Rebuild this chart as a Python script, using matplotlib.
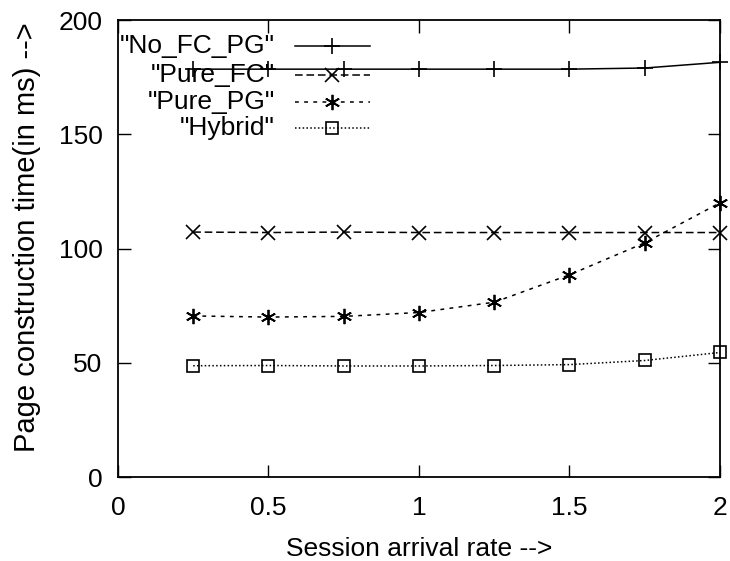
import matplotlib
matplotlib.use("Agg")
import matplotlib.pyplot as plt
from matplotlib.lines import Line2D

plt.rcParams['font.family'] = ['Liberation Sans', 'DejaVu Sans']

# Data
rate = [0.25, 0.5, 0.75, 1.0, 1.25, 1.5, 1.75, 2.0]
no_fc_pg = [178.5, 178.5, 178.5, 178.5, 178.5, 178.5, 179, 181.5]
pure_fc = [107.2, 107, 107.2, 107, 107, 107, 107, 107]
pure_pg = [70.5, 70, 70.3, 72, 76.5, 88.5, 102.5, 120]
hybrid = [48.7, 48.8, 48.6, 48.6, 48.8, 49.2, 51, 54.5]

labels = ['"No_FC_PG"', '"Pure_FC"', '"Pure_PG"', '"Hybrid"']
series = [no_fc_pg, pure_fc, pure_pg, hybrid]
styles = [
    dict(linestyle='-', marker='+', markersize=12, markeredgewidth=1.2),
    dict(linestyle=(0, (5, 2.5)), marker='x', markersize=9.5, markeredgewidth=1.2),
    dict(linestyle=(0, (2.5, 3.5)), marker=(6, 2, 0), markersize=11, markeredgewidth=1.3),
    dict(linestyle=(0, (1, 1.5)), marker='s', markersize=9, markeredgewidth=1.2,
         markerfacecolor='none'),
]

fig = plt.figure(figsize=(7.3, 5.61), dpi=100)
ax = fig.add_axes([0.1616, 0.1497, 0.8247, 0.8146])

for ys, st in zip(series, styles):
    ax.plot(rate, ys, color='black', linewidth=1.1, clip_on=False, **st)

ax.set_xlim(0, 2)
ax.set_ylim(0, 200)
ax.set_xticks([0, 0.5, 1, 1.5, 2])
ax.set_xticklabels(['0', '0.5', '1', '1.5', '2'])
ax.set_yticks([0, 50, 100, 150, 200])
ax.tick_params(direction='in', length=9, width=1.0, top=True, right=True,
               labelsize=19)
ax.tick_params(axis='y', pad=11)
ax.tick_params(axis='x', pad=14)
for sp in ax.spines.values():
    sp.set_linewidth(1.3)

ax.set_xlabel('Session arrival rate -->', fontsize=19, labelpad=12)
ax.set_ylabel('Page construction time(in ms) -->', fontsize=21)
ax.yaxis.set_label_coords(-0.128, 0.525)

# gnuplot-style key: right-aligned text, sample to the right
key_y = [0.943, 0.880, 0.821, 0.764]
for lab, st, ky in zip(labels, styles, key_y):
    ax.text(0.261, ky, lab, transform=ax.transAxes, ha='right', va='center',
            fontsize=19)
    line_kw = {k: v for k, v in st.items() if k == 'linestyle'}
    ax.add_line(Line2D([0.294, 0.419], [ky, ky], transform=ax.transAxes,
                       color='black', linewidth=1.1, **line_kw))
    mark_kw = {k: v for k, v in st.items() if k != 'linestyle'}
    ax.add_line(Line2D([0.355], [ky], transform=ax.transAxes, color='black',
                       linestyle='none', **mark_kw))

fig.savefig('out.png', dpi=100)
